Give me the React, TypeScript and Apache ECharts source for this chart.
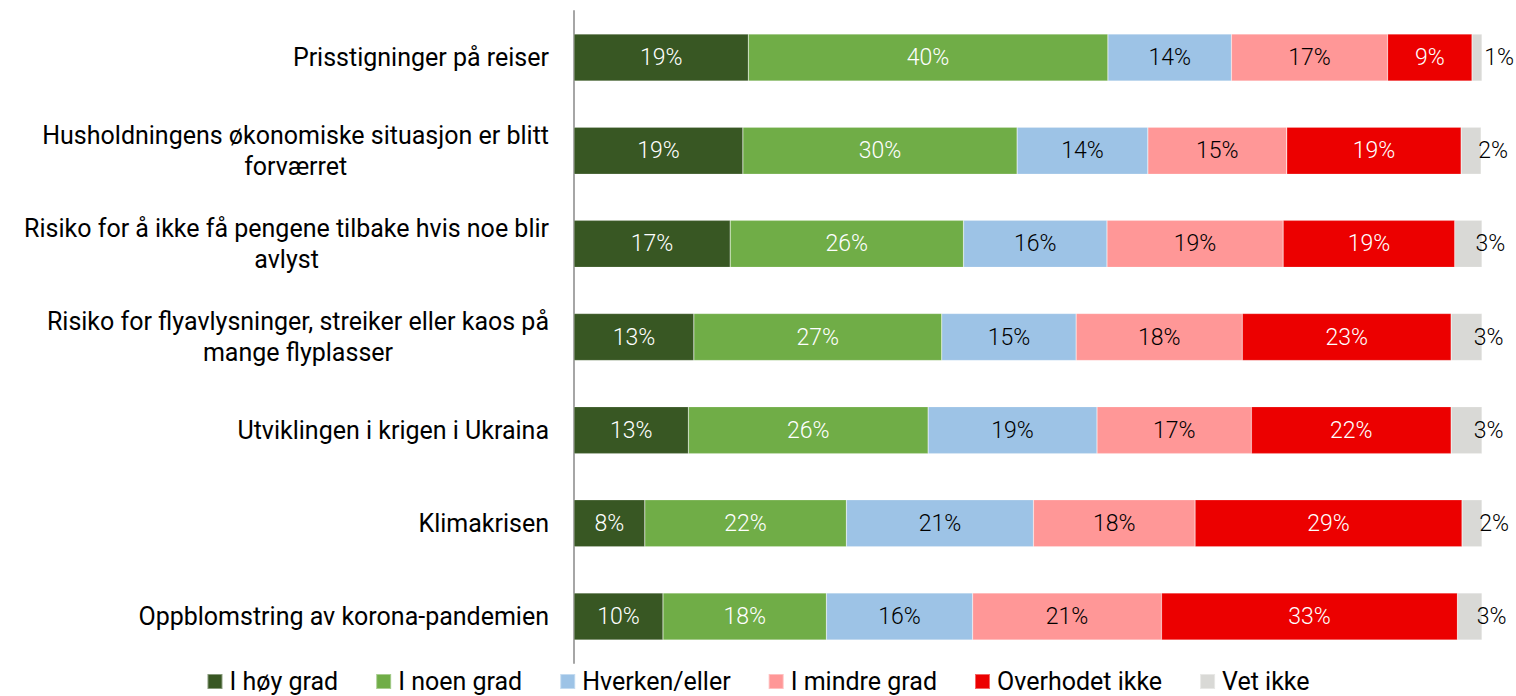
import React, { useEffect, useRef } from "react";
import * as echarts from "echarts";

const categories = [
  "Prisstigninger på reiser",
  "Husholdningens økonomiske situasjon er blitt\nforværret",
  "Risiko for å ikke få pengene tilbake hvis noe blir\navlyst",
  "Risiko for flyavlysninger, streiker eller kaos på\nmange flyplasser",
  "Utviklingen i krigen i Ukraina",
  "Klimakrisen",
  "Oppblomstring av korona-pandemien",
];

const seriesNames = ["I høy grad", "I noen grad", "Hverken/eller", "I mindre grad", "Overhodet ikke", "Vet ikke"];

const hoyGrad = [19.2, 18.6, 17.2, 13.2, 12.6, 7.8, 9.8];
const noenGrad = [39.6, 30.2, 25.7, 27.3, 26.4, 22.2, 18.0];
const hverken = [13.6, 14.4, 15.8, 14.8, 18.6, 20.6, 16.1];
const mindreGrad = [17.2, 15.3, 19.4, 18.3, 17.0, 17.8, 20.8];
const overhodet = [9.3, 19.2, 18.9, 23.0, 22.0, 29.4, 32.6];
const vetIkke = [1.1, 2.2, 3.0, 3.4, 3.4, 2.2, 2.7];

const seriesData = [hoyGrad, noenGrad, hverken, mindreGrad, overhodet, vetIkke];
const colors = ["#385723", "#70AD47", "#9DC3E6", "#FF9797", "#EC0000", "#D9D9D6"];
const labelColors = ["#fff", "#fff", "#000", "#000", "#fff", "#000"];

const FONT = "Roboto";

export default function App() {
  const ref = useRef<HTMLDivElement>(null);
  useEffect(() => {
    document.body.style.margin = "0";
    const chart = echarts.init(ref.current!, null, { renderer: "svg" });
    chart.setOption({
      animation: false,
      color: colors,
      legend: {
        data: seriesNames,
        top: 669,
        left: "center",
        icon: "rect",
        itemWidth: 15,
        itemHeight: 15,
        itemGap: 37,
        padding: 0,
        textStyle: {
          fontFamily: FONT,
          fontSize: 25,
          lineHeight: 25,
          color: "#000",
          padding: [0, 0, 0, 2],
        },
      },
      grid: { left: 574, right: 34, top: 11, bottom: 33, containLabel: false },
      xAxis: { type: "value", min: 0, max: 100, show: false },
      yAxis: {
        type: "category",
        data: categories,
        inverse: true,
        axisLine: { show: true, lineStyle: { color: "#A6A6A6", width: 2 } },
        axisTick: { show: false },
        axisLabel: {
          margin: 25,
          formatter: (v: string) =>
            v
              .split("\n")
              .map((l) => `{c|${l}}`)
              .join("\n"),
          rich: {
            c: { align: "center", fontFamily: FONT, fontSize: 25, color: "#000", lineHeight: 31 },
          },
        },
      },
      series: seriesData.map((d, i) => ({
        name: seriesNames[i],
        type: "bar",
        stack: "total",
        barWidth: 47,
        data: d,
        itemStyle: { color: colors[i], borderColor: "rgba(255,255,255,0.4)", borderWidth: 0.5 },
        label: {
          show: true,
          position: "inside",
          offset: i === 5 ? [22, 0] : [0, 0],
          formatter: (p: any) => Math.round(p.value) + "%",
          color: labelColors[i],
          fontFamily: FONT,
          fontWeight: 300,
          fontSize: 23,
        },
      })),
    });
    return () => chart.dispose();
  }, []);
  return <div ref={ref} style={{ width: 1516, height: 696 }} />;
}
